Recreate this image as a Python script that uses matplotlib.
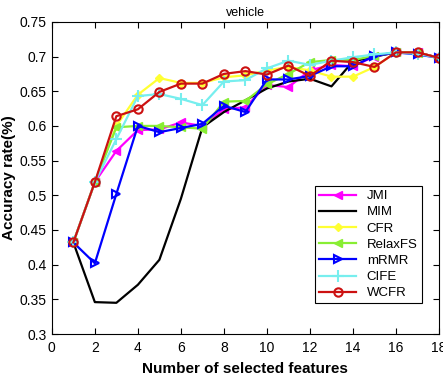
import numpy as np
import matplotlib
matplotlib.use("Agg")
import matplotlib.pyplot as plt

plt.rcParams['font.family'] = ['Liberation Sans', 'DejaVu Sans']

# number of selected features
n_feat = np.arange(1, 19)

# accuracy per method
jmi = [0.432, 0.519, 0.564, 0.594, 0.595, 0.605, 0.600, 0.624, 0.627, 0.659, 0.656, 0.680, 0.688, 0.686, 0.700, 0.706, 0.706, 0.698]
mim = [0.432, 0.346, 0.345, 0.371, 0.407, 0.495, 0.598, 0.620, 0.637, 0.654, 0.664, 0.668, 0.657, 0.693, 0.700, 0.706, 0.706, 0.698]
cfr = [0.432, 0.519, 0.600, 0.645, 0.669, 0.662, 0.662, 0.670, 0.673, 0.680, 0.685, 0.680, 0.671, 0.671, 0.685, 0.706, 0.706, 0.698]
relaxfs = [0.432, 0.519, 0.598, 0.600, 0.600, 0.598, 0.596, 0.635, 0.636, 0.660, 0.675, 0.692, 0.695, 0.695, 0.701, 0.706, 0.705, 0.698]
mrmr = [0.432, 0.402, 0.502, 0.600, 0.591, 0.597, 0.603, 0.629, 0.620, 0.667, 0.667, 0.672, 0.686, 0.686, 0.701, 0.706, 0.703, 0.698]
cife = [0.432, 0.519, 0.581, 0.643, 0.646, 0.639, 0.630, 0.664, 0.666, 0.683, 0.694, 0.688, 0.694, 0.699, 0.703, 0.706, 0.704, 0.698]
wcfr = [0.432, 0.519, 0.614, 0.624, 0.649, 0.661, 0.661, 0.675, 0.679, 0.674, 0.687, 0.672, 0.694, 0.692, 0.685, 0.706, 0.706, 0.698]

fig = plt.figure(figsize=(4.43, 3.77), dpi=100)
ax = fig.add_axes([0.117, 0.114, 0.874, 0.828])

lw = 1.6
ax.plot(n_feat, jmi, color='#ff00ff', marker='<', ms=6, mfc='#ff00ff', lw=lw, label='JMI')
ax.plot(n_feat, mim, color='black', lw=lw, label='MIM')
ax.plot(n_feat, cfr, color='#ffff33', marker='D', ms=4, mfc='#ffff33', lw=lw, label='CFR')
ax.plot(n_feat, relaxfs, color='#88ee33', marker='<', ms=6, mfc='#88ee33', lw=lw, label='RelaxFS')
ax.plot(n_feat, mrmr, color='#0000ff', marker='>', ms=6, mfc='none', mew=1.5, lw=lw, label='mRMR')
ax.plot(n_feat, cife, color='#77eeee', marker='+', ms=8, mew=1.5, lw=lw, label='CIFE')
ax.plot(n_feat, wcfr, color='#cc1111', marker='o', ms=6, mfc='none', mew=1.5, lw=lw, label='WCFR')

ax.set_xlim(0, 18)
ax.set_ylim(0.3, 0.75)
ax.set_xticks(np.arange(0, 19, 2))
ax.set_yticks(np.arange(0.3, 0.751, 0.05))
ax.set_yticklabels(['0.3', '0.35', '0.4', '0.45', '0.5', '0.55', '0.6', '0.65', '0.7', '0.75'])
ax.tick_params(direction='in', top=True, right=True, labelsize=10, length=4)
ax.tick_params(axis='x', pad=5)
ax.set_xlabel('Number of selected features', fontsize=11, fontweight='bold', labelpad=5)
ax.set_ylabel('Accuracy rate(%)', fontsize=11, fontweight='bold', labelpad=3)
ax.set_title('vehicle', fontsize=9, pad=4)

leg = ax.legend(loc='lower right', bbox_to_anchor=(0.972, 0.077), fontsize=9.5,
                fancybox=False, edgecolor='black', framealpha=1,
                handlelength=2.8, borderpad=0.3, labelspacing=0.3)
leg.get_frame().set_linewidth(0.8)

fig.savefig('out.png', dpi=100)
